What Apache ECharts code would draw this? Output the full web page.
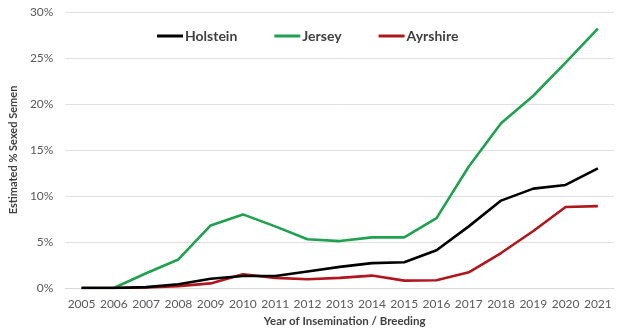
<!DOCTYPE html>
<html>
<head>
<meta charset="utf-8">
<script src="https://cdn.jsdelivr.net/npm/echarts@6/dist/echarts.min.js"></script>
<style>
  html, body { margin: 0; padding: 0; background: #fff; }
  #chart { width: 620px; height: 334px; }
</style>
</head>
<body>
<div id="chart"></div>
<script>
// Breeding years on the horizontal axis
const years = ['2005','2006','2007','2008','2009','2010','2011','2012','2013',
               '2014','2015','2016','2017','2018','2019','2020','2021'];

// Estimated share of inseminations using sexed semen, in percent
const holstein = [0, 0, 0.1, 0.4, 1.0, 1.3, 1.3, 1.8, 2.3, 2.7, 2.8, 4.1, 6.7, 9.5, 10.8, 11.2, 13.0];
const jersey   = [0, 0, 1.6, 3.1, 6.8, 8.0, 6.7, 5.3, 5.1, 5.5, 5.5, 7.6, 13.2, 17.9, 20.9, 24.5, 28.2];
const ayrshire = [0, 0, 0.05, 0.2, 0.5, 1.5, 1.1, 0.95, 1.1, 1.35, 0.8, 0.85, 1.7, 3.8, 6.2, 8.8, 8.9];

const seriesNames = ['Holstein', 'Jersey', 'Ayrshire'];
const seriesColors = ['#000000', '#1fa150', '#b0161c'];
const seriesData = [holstein, jersey, ayrshire];

const fontFamily = 'Lato, "Open Sans", sans-serif';

const chart = echarts.init(document.getElementById('chart'), null, { renderer: 'canvas' });

chart.setOption({
  animation: false,
  backgroundColor: '#ffffff',
  textStyle: { fontFamily: fontFamily },
  legend: {
    top: 24,
    left: 152,
    itemGap: 37,
    itemWidth: 26,
    itemHeight: 3,
    icon: 'rect',
    textStyle: { fontSize: 14, fontWeight: 'bold', color: '#404040', fontFamily: fontFamily, padding: [0, 0, 0, -3] },
    data: seriesNames
  },
  grid: { left: 57, right: 6, top: 12, bottom: 46, containLabel: false },
  xAxis: {
    type: 'category',
    data: years,
    boundaryGap: true,
    name: 'Year of Insemination / Breeding',
    nameLocation: 'middle',
    nameGap: 25,
    nameTextStyle: { fontSize: 11.5, fontWeight: 'bold', color: '#404040', fontFamily: fontFamily, padding: [0, 0, 0, 10] },
    axisLine: { lineStyle: { color: '#d9d9d9', width: 1 } },
    axisTick: { show: false },
    axisLabel: { fontSize: 12, color: '#595959', margin: 10, interval: 0 }
  },
  yAxis: {
    type: 'value',
    min: 0,
    max: 30,
    interval: 5,
    name: 'Estimated % Sexed Semen',
    nameLocation: 'middle',
    nameGap: 43,
    nameTextStyle: { fontSize: 11, fontWeight: 'bold', color: '#404040', fontFamily: fontFamily },
    axisLine: { show: false },
    axisTick: { show: false },
    splitLine: { lineStyle: { color: '#e0e0e0', width: 1 } },
    axisLabel: { fontSize: 12, color: '#595959', margin: 12, formatter: v => v + '%' }
  },
  series: seriesNames.map((name, i) => ({
    name: name,
    type: 'line',
    data: seriesData[i],
    symbol: 'none',
    lineStyle: { color: seriesColors[i], width: 2.6 },
    itemStyle: { color: seriesColors[i] },
    z: i === 1 ? 2 : (i === 0 ? 4 : 3)
  }))
});
</script>
</body>
</html>
